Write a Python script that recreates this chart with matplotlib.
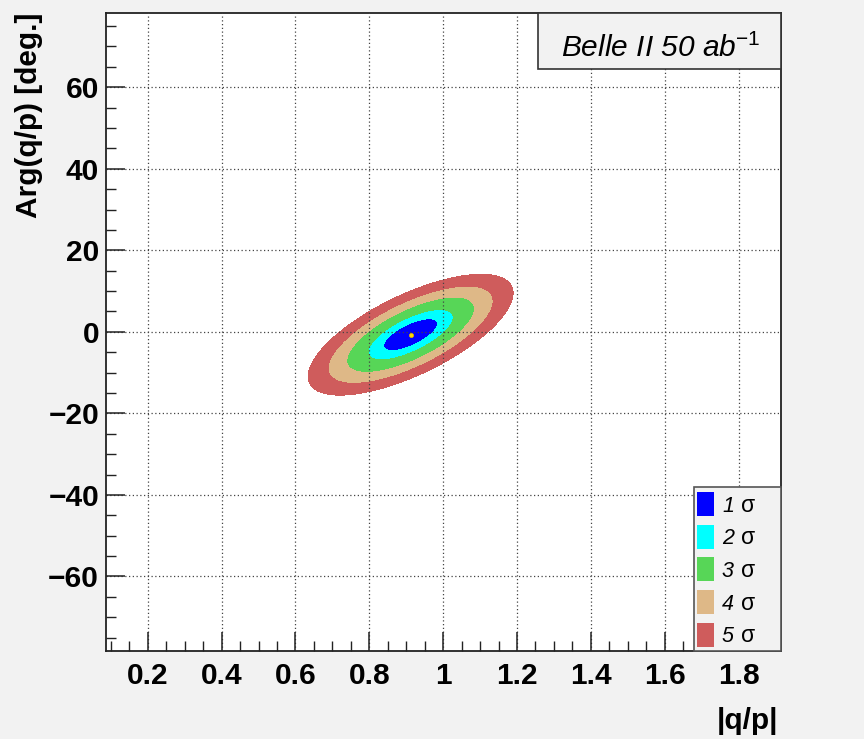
import numpy as np
import matplotlib
matplotlib.use("Agg")
import matplotlib.pyplot as plt
from matplotlib.patches import Rectangle
from matplotlib.ticker import MultipleLocator, FuncFormatter

plt.rcParams["font.family"] = ["Liberation Sans", "DejaVu Sans"]
plt.rcParams["mathtext.fontset"] = "custom"
plt.rcParams["mathtext.rm"] = "Liberation Sans"
plt.rcParams["mathtext.it"] = "Liberation Sans:italic"
plt.rcParams["mathtext.bf"] = "Liberation Sans:bold"

# --- fit result: best point and 1-sigma ellipse shape ---
center_qp = 0.912         # |q/p|
center_arg = -0.7         # Arg(q/p) [deg.]
half_qp_1s = 0.073        # 1 sigma half-extent along |q/p|
half_arg_1s = 3.9         # 1 sigma half-extent along Arg(q/p)
rho = 0.69                # correlation

# contour radii (in units of the 1 sigma ellipse) and styling
sigma_labels = ["1", "2", "3", "4", "5"]
sigma_radii = [1.0, 1.58, 2.37, 3.06, 3.8]
sigma_colors = ["#0000ff", "#00ffff", "#57d657", "#deb887", "#cf5c5c"]

x_range = (0.087, 1.915)
y_range = (-78.2, 78.2)
x_major = 0.2
x_minor = 0.05
y_major = 20
y_minor = 5

BG = "#f2f2f2"

fig = plt.figure(figsize=(8.64, 7.39), dpi=100, facecolor=BG)
W, H = 864, 739
ax_l, ax_r, ax_t, ax_b = 106, 781, 13, 650.7
ax = fig.add_axes([ax_l / W, 1 - ax_b / H, (ax_r - ax_l) / W, (ax_b - ax_t) / H])
ax.set_facecolor("white")

# likelihood-style quadratic form on a grid
xs = np.linspace(*x_range, 700)
ys = np.linspace(*y_range, 700)
X, Y = np.meshgrid(xs, ys)
u = (X - center_qp) / half_qp_1s
v = (Y - center_arg) / half_arg_1s
Q = (u ** 2 - 2 * rho * u * v + v ** 2) / (1 - rho ** 2)
levels = [0] + [r ** 2 for r in sigma_radii]
ax.contourf(X, Y, Q, levels=levels, colors=sigma_colors, zorder=1)
ax.plot([center_qp], [center_arg], marker="o", ms=3, color="#ffd800",
        mec="#e0b000", mew=0.5, zorder=3)

ax.set_xlim(*x_range)
ax.set_ylim(*y_range)
ax.xaxis.set_major_locator(MultipleLocator(x_major))
ax.xaxis.set_minor_locator(MultipleLocator(x_minor))
ax.yaxis.set_major_locator(MultipleLocator(y_major))
ax.yaxis.set_minor_locator(MultipleLocator(y_minor))
fmt = FuncFormatter(lambda val, pos: ("%g" % round(val, 6)).replace("-", "\u2212"))
ax.xaxis.set_major_formatter(fmt)
ax.yaxis.set_major_formatter(fmt)

ax.tick_params(which="both", direction="in", top=False, right=False, color="#222222")
ax.tick_params(which="major", length=14, width=1.1)
ax.tick_params(which="minor", length=7, width=1.0)
ax.tick_params(axis="x", which="major", pad=8, labelsize=21.5)
ax.tick_params(axis="y", which="major", pad=5, labelsize=21.5)
for lab in ax.get_xticklabels() + ax.get_yticklabels():
    lab.set_fontweight("bold")

ax.set_axisbelow(False)
ax.grid(True, which="major", color="#444444", linestyle=(0, (1, 2)), linewidth=0.9)
for sp in ax.spines.values():
    sp.set_color("#222222")
    sp.set_linewidth(1.3)

# axis titles
fig.text(778 / W, 1 - 721 / H, "|q/p|", ha="right", va="center",
         fontsize=21.5, fontweight="bold")
fig.text(29 / W, 1 - 13 / H, "Arg(q/p) [deg.]", ha="center", va="top",
         rotation=90, fontsize=21.5, fontweight="bold")

# helpers: pixel position -> axes fraction
def ay(py):
    return (ax_b - py) / (ax_b - ax_t)

def axx(px):
    return (px - ax_l) / (ax_r - ax_l)

# title box
ax.add_patch(Rectangle((axx(537.5), ay(69)), axx(781) - axx(537.5), ay(13) - ay(69),
                       transform=ax.transAxes, facecolor=BG, edgecolor="#333333",
                       lw=1.2, zorder=6, clip_on=False))
ax.text(axx(661), ay(57), "Belle II 50 ab" + r"$^{\mathit{-1}}$", transform=ax.transAxes,
        ha="center", va="baseline", fontsize=21.5, fontstyle="italic", zorder=7)

# legend box
ax.add_patch(Rectangle((axx(694), 0), 1 - axx(694), ay(487), transform=ax.transAxes,
                       facecolor=BG, edgecolor="#555555", lw=1.2, zorder=6, clip_on=False))
row_y = [504, 536.7, 569.3, 602, 634.7]
for lab, col, py in zip(sigma_labels, sigma_colors, row_y):
    ax.add_patch(Rectangle((axx(697), ay(py + 12)), axx(713.5) - axx(697), ay(py - 12) - ay(py + 12),
                           transform=ax.transAxes, facecolor=col, edgecolor="none",
                           zorder=7, clip_on=False))
    ax.text(axx(722), ay(py + 7.5), lab, transform=ax.transAxes, ha="left", va="baseline",
            fontsize=15.5, fontstyle="italic", zorder=7)
    ax.text(axx(741), ay(py + 7.5), "σ", transform=ax.transAxes, ha="left", va="baseline",
            fontsize=16.5, zorder=7)

fig.savefig("out.png", dpi=100, facecolor=BG)
